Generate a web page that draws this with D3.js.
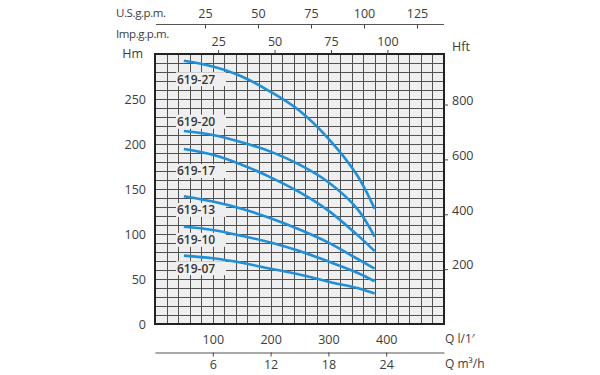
<!DOCTYPE html>
<html>
<head>
<meta charset="utf-8">
<script src="https://cdn.jsdelivr.net/npm/d3@7"></script>
<style>
  html, body { margin: 0; padding: 0; background: #ffffff; }
  svg { display: block; }
  text { font-family: "Open Sans", "Noto Sans", sans-serif; }
</style>
</head>
<body>
<svg id="chart" width="600" height="375"></svg>
<script>
// ---------- data ----------
const flowLmin = [50, 100, 150, 200, 250, 300, 350, 380];
const pumpModels = ["619-27", "619-20", "619-17", "619-13", "619-10", "619-07"];
const head_619_27 = [292.5, 286, 275, 258, 237, 206, 165, 128];
const head_619_20 = [214.5, 210, 202, 191.5, 177, 157.5, 128, 97];
const head_619_17 = [194.5, 188, 177, 163, 146.5, 126, 99, 81];
const head_619_13 = [142, 136, 128, 117.5, 105, 90.5, 72.5, 61.5];
const head_619_10 = [108, 104.5, 98, 90.5, 81, 69.5, 57, 47.5];
const head_619_07 = [76, 73, 68, 61.5, 55, 47, 40, 34];
const labelHeadAnchor = [272, 224.8, 170, 126.7, 93.5, 62];

const hmTicks = [0, 50, 100, 150, 200, 250];
const hftTicks = [200, 400, 600, 800];
const lminTicks = [100, 200, 300, 400];
const m3hTicks = [6, 12, 18, 24];
const usGpmTicks = [25, 50, 75, 100, 125];
const impGpmTicks = [25, 50, 75, 100];

const allHeads = [head_619_27, head_619_20, head_619_17, head_619_13, head_619_10, head_619_07];

// ---------- layout ----------
const L = 155, R = 444, T = 54, B = 324;
const svg = d3.select("#chart");

const x = d3.scaleLinear().domain([0, 500]).range([L, R]);
const y = d3.scaleLinear().domain([0, 300]).range([B, T]);
const xM3h = d3.scaleLinear().domain([0, 30]).range([L, R]);
const yFt = d3.scaleLinear().domain([0, 300 * 3.2808]).range([B, T]);
const xUs = d3.scaleLinear().domain([0, 125]).range([152, 417]);
const xImp = d3.scaleLinear().domain([0, 100]).range([161.7, 387.4]);

const textCol = "#3c3c3c";
const fs = "12.5px";

// plot background
svg.append("rect").attr("x", L).attr("y", T).attr("width", R - L).attr("height", B - T)
  .attr("fill", "#efefef");

// grid
const grid = svg.append("g").attr("stroke", "#505050").attr("stroke-width", 1);
grid.selectAll("line.v").data(d3.range(20, 500, 20)).join("line")
  .attr("x1", d => Math.round(x(d)) + 0.5).attr("x2", d => Math.round(x(d)) + 0.5)
  .attr("y1", T).attr("y2", B);
grid.selectAll("line.h").data(d3.range(10, 300, 10)).join("line")
  .attr("y1", d => Math.round(y(d)) + 0.5).attr("y2", d => Math.round(y(d)) + 0.5)
  .attr("x1", L).attr("x2", R);

// label boxes (hide grid behind labels)
const labelG = svg.append("g");
pumpModels.forEach((m, i) => {
  const cy = y(labelHeadAnchor[i]);
  labelG.append("rect").attr("x", 176).attr("y", cy - 7).attr("width", 50).attr("height", 14)
    .attr("fill", "#efefef");
});

// curves
const line = d3.line().x(d => x(d[0])).y(d => y(d[1])).curve(d3.curveCatmullRom.alpha(0.5));
svg.append("g").selectAll("path").data(allHeads).join("path")
  .attr("d", h => line(flowLmin.map((q, i) => [q, h[i]])))
  .attr("fill", "none").attr("stroke", "#1e8fd8").attr("stroke-width", 2.6)
  .attr("stroke-linecap", "butt");

// labels
pumpModels.forEach((m, i) => {
  labelG.append("text").attr("x", 177).attr("y", y(labelHeadAnchor[i]))
    .attr("dy", "0.36em").attr("font-size", "12px").attr("font-weight", 600)
    .attr("fill", "#363636").text(m);
});

// border
svg.append("rect").attr("x", L).attr("y", T).attr("width", R - L).attr("height", B - T)
  .attr("fill", "none").attr("stroke", "#222").attr("stroke-width", 2);

function styleAxis(g) {
  g.selectAll("text").attr("font-size", fs).attr("fill", textCol)
    .attr("font-family", '"Open Sans", "Noto Sans", sans-serif');
  g.selectAll("line").attr("stroke", "#444");
  g.selectAll("path.domain").attr("stroke", "#555");
}

// left Hm axis
svg.append("g").attr("transform", `translate(${L},0)`)
  .call(d3.axisLeft(y).tickValues(hmTicks).tickSize(0).tickPadding(9))
  .call(g => g.select(".domain").remove())
  .call(styleAxis);
svg.append("text").attr("x", 143).attr("y", 53).attr("dy", "0.36em").attr("text-anchor", "end")
  .attr("font-size", fs).attr("fill", textCol).text("Hm");

// right Hft axis
svg.append("g").attr("transform", `translate(${R},0)`)
  .call(d3.axisRight(yFt).tickValues(hftTicks).tickSize(4).tickPadding(4).tickSizeOuter(0))
  .call(g => g.select(".domain").remove())
  .call(g => g.selectAll("text").attr("dy", "-0.02em"))
  .call(styleAxis);
svg.append("text").attr("x", 452).attr("y", 46).attr("dy", "0.36em")
  .attr("font-size", fs).attr("fill", textCol).text("Hft");

// top US gpm axis
svg.append("line").attr("x1", L + 1).attr("x2", R).attr("y1", 24.5).attr("y2", 24.5)
  .attr("stroke", "#555").attr("stroke-width", 1.2);
svg.append("g").attr("transform", "translate(0,24.5)")
  .call(d3.axisTop(xUs).tickValues(usGpmTicks).tickSize(-4).tickPadding(7).tickSizeOuter(0))
  .call(g => g.select(".domain").remove())
  .call(styleAxis);
svg.append("text").attr("x", 116).attr("y", 13).attr("dy", "0.36em")
  .attr("font-size", "11.5px").attr("letter-spacing", "-0.4px").attr("fill", textCol).text("U.S.g.p.m.");

// top Imp gpm axis
svg.append("g").attr("transform", `translate(0,${T})`)
  .call(d3.axisTop(xImp).tickValues(impGpmTicks).tickSize(4).tickPadding(4).tickSizeOuter(0))
  .call(g => g.select(".domain").remove())
  .call(styleAxis);
svg.append("text").attr("x", 116).attr("y", 33.5).attr("dy", "0.36em")
  .attr("font-size", "11.5px").attr("letter-spacing", "-0.4px").attr("fill", textCol).text("Imp.g.p.m.");

// bottom l/min labels
svg.append("g").attr("transform", `translate(0,${B})`)
  .call(d3.axisBottom(x).tickValues(lminTicks).tickSize(0).tickPadding(11))
  .call(g => g.select(".domain").remove())
  .call(styleAxis);
svg.append("text").attr("x", 445).attr("y", 339).attr("dy", "0.36em")
  .attr("font-size", "12px").attr("fill", textCol).text("Q l/1\u2032");

// bottom m3/h axis
svg.append("g").attr("transform", "translate(0,352.5)")
  .call(d3.axisBottom(xM3h).tickValues(m3hTicks).tickSize(4).tickPadding(4).tickSizeOuter(0))
  .call(styleAxis)
  .call(g => g.select(".domain").attr("stroke-width", 1.2));
svg.append("text").attr("x", 445).attr("y", 364).attr("dy", "0.36em")
  .attr("font-size", "12px").attr("fill", textCol).text("Q m\u00b3/h");
</script>
</body>
</html>
